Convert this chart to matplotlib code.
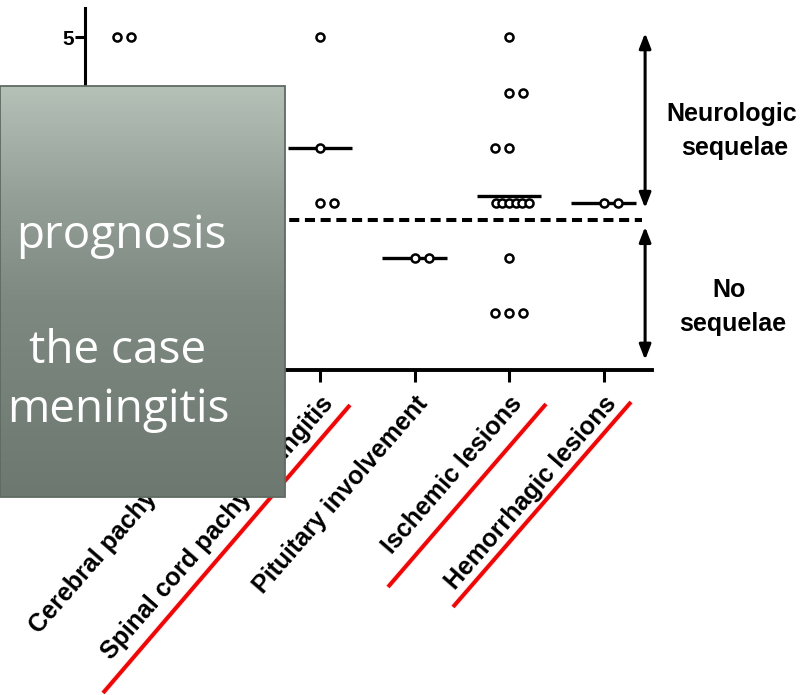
import numpy as np
import matplotlib
matplotlib.use("Agg")
import matplotlib.pyplot as plt
from matplotlib.lines import Line2D
from matplotlib.patches import Rectangle, FancyArrowPatch
from matplotlib.colors import LinearSegmentedColormap

# ---- data -------------------------------------------------------------
categories = ["", "Cerebral pachymeningitis", "Spinal cord pachymeningitis",
              "Pituitary involvement", "Ischemic lesions", "Hemorrhagic lesions"]

# outcome score of each patient, per group
scores_first = [5, 5, 4, 4]
scores_cerebral = []
scores_spinal = [5, 3, 2, 2]
scores_pituitary = [1, 1]
scores_ischemic = [5, 4, 4, 3, 3, 2, 2, 2, 2, 2, 2, 1, 0, 0, 0]
scores_hemorrhagic = [2, 2]
groups = [scores_first, scores_cerebral, scores_spinal,
          scores_pituitary, scores_ischemic, scores_hemorrhagic]
# the first two groups are only partly listed, so no mean bar for them
mean_bar = [False, False, True, True, True, True]

y_ticks = [0, 1, 2, 3, 4, 5]
cutoff = 1.7

# ---- layout helpers ---------------------------------------------------
W, H = 807, 695
STEP = 0.153      # spacing between neighbouring dots (category units)
MAX_SPAN = 0.35   # widest a row of dots may get


def dot_layout(values):
    vals = np.asarray(values, dtype=float)
    xs, ys = [], []
    side = 1
    for v in sorted(set(vals)):
        n = int(np.sum(vals == v))
        step = STEP if n < 2 else min(STEP, MAX_SPAN / (n - 1))
        offs = (np.arange(n) - (n - 1) / 2) * step
        if n % 2 == 0:
            offs = offs + side * step / 2
            side = -side
        xs.extend(offs)
        ys.extend([v] * n)
    return np.array(xs), np.array(ys)


plt.rcParams["font.family"] = ["Liberation Sans", "DejaVu Sans"]

fig = plt.figure(figsize=(W / 100, H / 100), dpi=100)
fig.patch.set_facecolor("white")

ax = fig.add_axes([85 / W, 1 - 370 / H, (652 - 85) / W, (370 - 8) / H])
ax.set_xlim(-0.487, 5.513)
ax.set_ylim(-1.024, 5.534)
ax.set_facecolor("none")

for side in ("top", "right"):
    ax.spines[side].set_visible(False)
ax.spines["left"].set_linewidth(2.2)
ax.spines["bottom"].set_linewidth(2.8)

ax.set_yticks(y_ticks)
ax.set_yticklabels([str(t) for t in y_ticks], fontsize=15, fontweight="bold")
ax.tick_params(axis="y", length=7, width=2.2, pad=1)

ax.set_xticks(range(len(categories)))
ax.set_xticklabels(categories, rotation=49, ha="right", va="top",
                   rotation_mode="anchor", fontsize=18, fontweight="bold")
ax.tick_params(axis="x", length=8.5, width=2.2, pad=7)

# threshold between outcomes
ax.plot([ax.get_xlim()[0], 5.407], [cutoff, cutoff], color="black", lw=2.9,
        linestyle=(0, (2.5, 1.4)), dash_capstyle="butt", zorder=2)

for i, vals in enumerate(groups):
    if len(vals) == 0:
        continue
    xo, yo = dot_layout(vals)
    if mean_bar[i]:
        m = float(np.mean(vals))
        ax.plot([i - 0.34, i + 0.34], [m, m], color="black", lw=2.4,
                solid_capstyle="butt", zorder=3)
    ax.plot(i + xo, yo, "o", ms=5.8, mfc="white", mec="black", mew=1.8,
            zorder=4, clip_on=False)

# outcome brackets
arrow_kw = dict(arrowstyle="<|-|>,head_length=0.9,head_width=0.35",
                mutation_scale=10, lw=2.2, color="black",
                shrinkA=0, shrinkB=0, zorder=3)
ax.add_patch(FancyArrowPatch((5.44, 5.08), (5.44, cutoff + 0.21), **arrow_kw))
ax.add_patch(FancyArrowPatch((5.44, cutoff - 0.13), (5.44, -0.84), **arrow_kw))

txt_kw = dict(ha="center", va="baseline", fontsize=18, fontweight="bold")
fig.text(732 / W, 1 - 121 / H, "Neurologic", **txt_kw)
fig.text(735 / W, 1 - 155 / H, "sequelae", **txt_kw)
fig.text(729 / W, 1 - 297 / H, "No", **txt_kw)
fig.text(733 / W, 1 - 331 / H, "sequelae", **txt_kw)

# red underlines
for (x0, y0), (x1, y1) in [((103, 693), (350, 405)),
                           ((388, 587), (546, 404)),
                           ((453, 607), (631, 402))]:
    fig.add_artist(Line2D([x0 / W, x1 / W], [1 - y0 / H, 1 - y1 / H],
                          color="#ff0000", lw=2.9, solid_capstyle="butt",
                          zorder=2))

# title panel
panel = fig.add_axes([0, 1 - 497 / H, 285 / W, (497 - 86) / H], zorder=5)
panel.set_xlim(0, 1)
panel.set_ylim(0, 1)
panel.axis("off")
cmap = LinearSegmentedColormap.from_list(
    "panel", [(0.0, "#6d7970"), (0.48, "#7e8a81"), (0.72, "#939f96"),
              (1.0, "#b5c1b7")])
grad = np.linspace(0, 1, 256)[:, None]
panel.imshow(grad, extent=(0, 1, 0, 1), origin="lower", aspect="auto",
             cmap=cmap, interpolation="bilinear")
panel.add_patch(Rectangle((0, 0), 1, 1, fill=False, ec="#5e6b62", lw=1.3,
                          transform=panel.transAxes, clip_on=False))

ptxt = dict(color="white", fontsize=33, family=["Open Sans", "DejaVu Sans"],
            fontweight="normal", va="baseline", zorder=6)
fig.text(121.5 / W, 1 - 248 / H, "prognosis", ha="center", **ptxt)
fig.text(117.5 / W, 1 - 363 / H, "the case", ha="center", **ptxt)
fig.text(230 / W, 1 - 422 / H, "meningitis", ha="right", **ptxt)

fig.savefig("out.png", dpi=100, facecolor="white")
